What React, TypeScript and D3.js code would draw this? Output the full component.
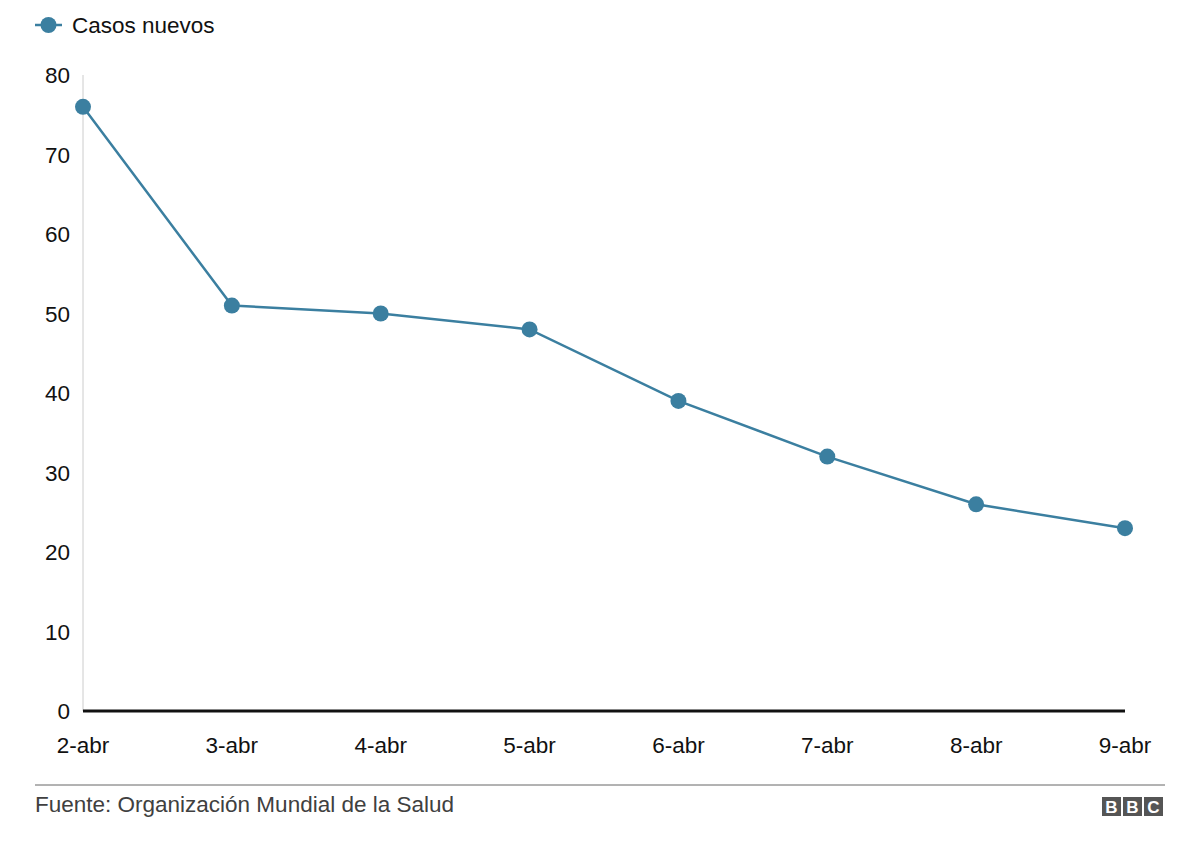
import * as d3 from 'd3';
import React from "react";

const WIDTH = 1200;
const HEIGHT = 849;
const LINE_COLOR = '#3b7fa0';
const FONT = '"Liberation Sans", Arial, Helvetica, sans-serif';
const FS = 22.5;

const days = ['2-abr', '3-abr', '4-abr', '5-abr', '6-abr', '7-abr', '8-abr', '9-abr'];
const newCases = [76, 51, 50, 48, 39, 32, 26, 23];
const yTicks = [0, 10, 20, 30, 40, 50, 60, 70, 80];

export default function App() {
    const x = d3.scalePoint<string>().domain(days).range([83, 1125]);
    const y = d3.scaleLinear().domain([0, 80]).range([711, 75]);

    const line = d3.line<number>()
        .x((_, i) => x(days[i]) as number)
        .y(d => y(d));

    return (
        <svg width={WIDTH} height={HEIGHT} style={{position: 'absolute', left: 0, top: 0, background: '#fff'}}
             fontFamily={FONT}>
            {/* legend */}
            <line x1={35} x2={62} y1={25} y2={25} stroke={LINE_COLOR} strokeWidth={2.5}/>
            <circle cx={48.5} cy={25} r={8} fill={LINE_COLOR}/>
            <text x={72} y={33} fontSize={FS} fill="#111">Casos nuevos</text>

            {/* y axis */}
            <line x1={83} x2={83} y1={y(80)} y2={y(0)} stroke="#ccc" strokeWidth={1}/>
            {yTicks.map(t => (
                <text key={t} x={70} y={y(t) + 8} fontSize={FS} textAnchor="end" fill="#111">{t}</text>
            ))}

            {/* x axis */}
            {days.map(d => (
                <text key={d} x={x(d)} y={753} fontSize={FS} textAnchor="middle" fill="#111">{d}</text>
            ))}

            <path d={line(newCases) || ''} fill="none" stroke={LINE_COLOR} strokeWidth={2.5}/>
            <line x1={83} x2={1125} y1={y(0)} y2={y(0)} stroke="#111" strokeWidth={3}/>
            {newCases.map((v, i) => (
                <circle key={i} cx={x(days[i])} cy={y(v)} r={8} fill={LINE_COLOR}/>
            ))}

            {/* footer */}
            <line x1={35} x2={1165} y1={785} y2={785} stroke="#666" strokeWidth={1}/>
            <text x={35} y={812} fontSize={FS} fill="#404040">Fuente: Organización Mundial de la Salud</text>
            <g transform="translate(1102,797)">
                {['B', 'B', 'C'].map((c, i) => (
                    <g key={i} transform={`translate(${i * 21},0)`}>
                        <rect width={19} height={19} fill="#555"/>
                        <text x={9.5} y={16} fontSize={17} fontWeight="bold" textAnchor="middle" fill="#fff">{c}</text>
                    </g>
                ))}
            </g>
        </svg>
    )
}
